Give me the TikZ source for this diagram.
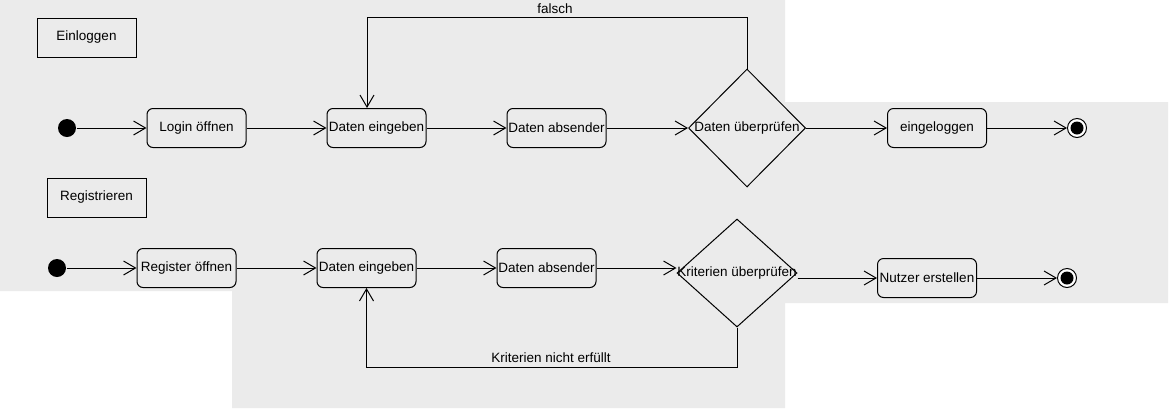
\documentclass[tikz,border=0pt]{standalone}
\usepackage{fontspec}
\setmainfont{Liberation Sans}
\usetikzlibrary{arrows.meta,shapes.geometric}
\definecolor{hintergrund}{HTML}{EBEBEB}
\newcommand{\arw}{-{Straight Barb[length=12pt,width=14pt]}}

\tikzset{
  aktion/.style={draw, rounded corners=6pt, minimum width=99pt, minimum height=39pt, inner sep=0pt},
  titel/.style={draw, minimum width=99pt, minimum height=39pt, inner sep=0pt},
  entscheid/.style={draw, diamond, inner sep=0pt},
  startpunkt/.style={circle, fill, minimum size=18pt, inner sep=0pt},
  endpunkt/.style={circle, draw, fill=white, minimum size=19pt, inner sep=0pt,
    path picture={\fill[black] (path picture bounding box.center) circle (6.5pt);}},
}

\begin{document}
\begin{tikzpicture}[x=1pt,y=-1pt,line width=1pt,font=\fontsize{13.5}{16}\selectfont]
\fill[hintergrund] (0,0) -- (785,0) -- (785,102) -- (1168,102) -- (1168,303) -- (785,303)
  -- (785,408) -- (232,408) -- (232,291) -- (0,291) -- cycle;
\useasboundingbox (0,0) rectangle (1169,408);

%einloggen
\node[titel] (einloggen) at (86.5,37.5) {Einloggen};
\node[startpunkt] (start1) at (67,128) {};
\node[aktion] (login) at (196.5,128) {Login öffnen};
\node[aktion] (eingabe1) at (376.5,128) {Daten eingeben};
\node[aktion] (senden1) at (556.5,128) {Daten absender};
\node[entscheid, minimum width=117pt, minimum height=118pt] (pruefen1) at (747,128) {\makebox[0pt]{Daten überprüfen}};
\node[aktion] (eingeloggt) at (937,128) {eingeloggen};
\node[endpunkt] (ende1) at (1077,128) {};
\node (falsch) at (555,9) {falsch};
\draw[\arw] (start1) -- (login);
\draw[\arw] (login) -- (eingabe1);
\draw[\arw] (eingabe1) -- (senden1);
\draw[\arw] (senden1) -- (pruefen1);
\draw[\arw] (pruefen1) -- (eingeloggt);
\draw[\arw] (eingeloggt) -- (ende1);
\draw[\arw] (pruefen1.north) -- ++(0,-51) -| ([xshift=-9.5pt]eingabe1.north);

%registrieren
\node[titel] (registrieren) at (96.5,197.5) {Registrieren};
\node[startpunkt] (start2) at (57,268) {};
\node[aktion] (register) at (186.5,268) {Register öffnen};
\node[aktion] (eingabe2) at (366.5,268) {Daten eingeben};
\node[aktion] (senden2) at (546.5,268) {Daten absender};
\node[entscheid, minimum width=120pt, minimum height=108pt] (pruefen2) at (737,273) {\makebox[0pt]{Kriterien überprüfen}};
\node[aktion] (nutzer) at (927,278) {Nutzer erstellen};
\node[endpunkt] (ende2) at (1067,278) {};
\node (nichterfuellt) at (551,358) {Kriterien nicht erfüllt};
\draw[\arw] (start2) -- (register);
\draw[\arw] (register) -- (eingabe2);
\draw[\arw] (eingabe2) -- (senden2);
\draw[\arw] (senden2) -- (senden2 -| pruefen2.west);
\draw[\arw] (pruefen2.east |- nutzer) -- (nutzer);
\draw[\arw] (nutzer) -- (ende2);
\draw[\arw] (pruefen2.south) -- ++(0,40) -| (eingabe2.south);
\end{tikzpicture}
\end{document}
